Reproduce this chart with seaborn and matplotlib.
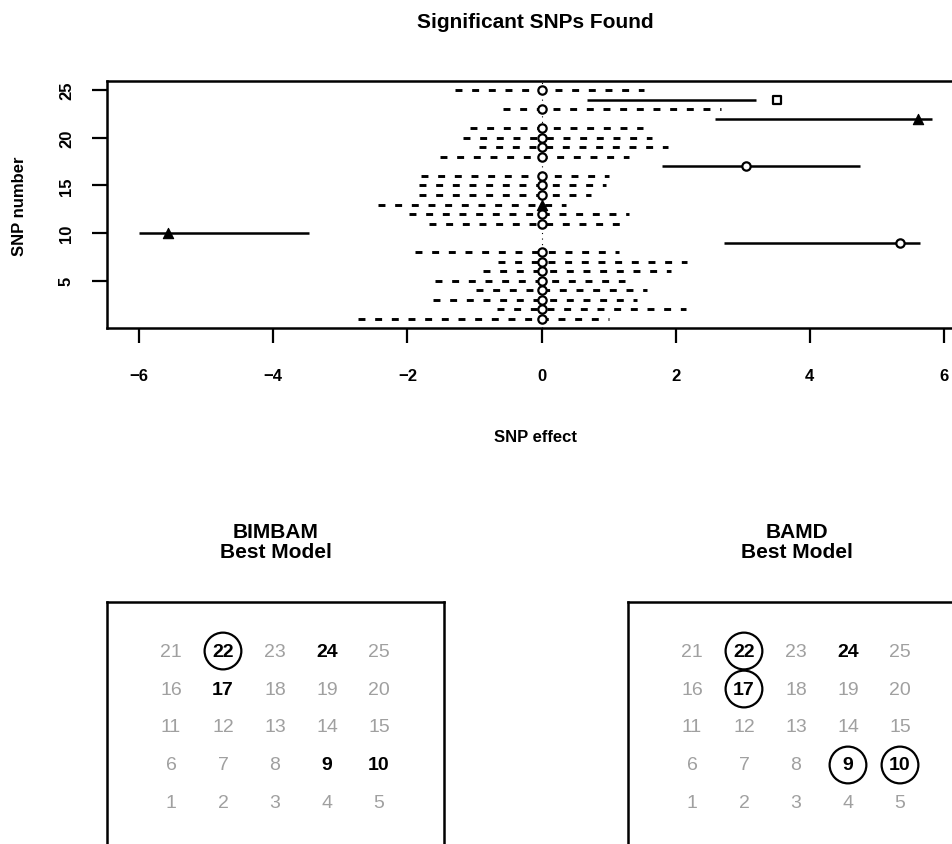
import matplotlib
matplotlib.use("Agg")
import pandas as pd
import matplotlib.pyplot as plt
import seaborn as sns

# Top panel: effect estimate and interval for each SNP
snp = list(range(1, 26))
estimate = [0, 0, 0, 0, 0, 0, 0, 0, 5.34, -5.57, 0, 0, 0, 0, 0,
            0, 3.05, 0, 0, 0, 0, 5.61, 0, 3.51, 0]
lower = [-2.74, -0.67, -1.62, -0.98, -1.59, -0.88, -0.65, -1.89, 2.72, -6.01,
         -1.68, -1.98, -2.44, -1.83, -1.82, -1.80, 1.79, -1.52, -0.93, -1.17,
         -1.06, 2.59, -0.58, 0.68, -1.29]
upper = [1.00, 2.16, 1.43, 1.58, 1.24, 1.93, 2.17, 1.16, 5.64, -3.47,
         1.30, 1.31, 0.37, 0.74, 0.96, 1.01, 4.75, 1.31, 1.89, 1.65,
         1.52, 5.83, 2.68, 3.20, 1.53]
significant = [9, 10, 17, 22, 24]
triangle_snps = [10, 13, 22]
square_snps = [24]

# Bottom panels: 5x5 grid of SNP numbers
grid_numbers = list(range(1, 26))
bimbam_bold = [9, 10, 17, 22, 24]
bimbam_circled = [22]
bamd_bold = [9, 10, 17, 22, 24]
bamd_circled = [9, 10, 17, 22]

df = pd.DataFrame({"snp": snp, "estimate": estimate, "lower": lower, "upper": upper})
df["sig"] = df["snp"].isin(significant)
df["kind"] = "circle"
df.loc[df["snp"].isin(triangle_snps), "kind"] = "triangle"
df.loc[df["snp"].isin(square_snps), "kind"] = "square"

sns.set_style("ticks")
plt.rcParams["font.family"] = ["Liberation Sans", "DejaVu Sans"]
plt.rcParams["text.color"] = "black"
plt.rcParams["xtick.color"] = "black"
plt.rcParams["ytick.color"] = "black"
plt.rcParams["xtick.labelcolor"] = "black"
plt.rcParams["ytick.labelcolor"] = "black"

W, H = 952, 845
fig = plt.figure(figsize=(W / 100, H / 100), dpi=100)

# ---- top interval plot ----
ax = fig.add_axes([107 / W, 1 - 329 / H, (964 - 107) / W, 247 / H])
lw = 1.8
dlw = 2.1
ax.axvline(0, color="black", lw=0.8, ls=(0, (1, 4)), zorder=1)
ns = df[~df["sig"]]
ax.hlines(ns["snp"], ns["lower"], ns["upper"], colors="black", lw=dlw,
          linestyles=[(0, (5 / dlw, 7 / dlw))], zorder=2)
sg = df[df["sig"]]
ax.hlines(sg["snp"], sg["lower"], sg["upper"], colors="black", lw=lw, zorder=2)

sns.scatterplot(data=df[df["kind"] == "circle"], x="estimate", y="snp", marker="o",
                s=36, facecolor="white", edgecolor="black", linewidth=1.6, ax=ax, zorder=3)
sns.scatterplot(data=df[df["kind"] == "square"], x="estimate", y="snp", marker="s",
                s=28, facecolor="white", edgecolor="black", linewidth=1.6, ax=ax, zorder=3)
sns.scatterplot(data=df[df["kind"] == "triangle"], x="estimate", y="snp", marker="^",
                s=55, color="black", edgecolor="black", linewidth=0.8, ax=ax, zorder=3)

ax.set_xlim(-6.48, 6.30)
ax.set_ylim(0.04, 25.96)
ax.set_xticks([-6, -4, -2, 0, 2, 4, 6])
ax.set_xticklabels(["\u22126", "\u22124", "\u22122", "0", "2", "4", "6"])
ax.set_yticks([5, 10, 15, 20, 25])
ax.set_xlabel("")
ax.set_ylabel("")
for sp in ax.spines.values():
    sp.set_linewidth(lw)
    sp.set_color("black")
ax.tick_params(axis="both", length=10.8, width=1.6, color="black", labelsize=12)
ax.tick_params(axis="x", pad=18)
ax.tick_params(axis="y", pad=13, labelrotation=90)
for t in ax.get_xticklabels() + ax.get_yticklabels():
    t.set_fontweight("bold")
for t in ax.get_yticklabels():
    t.set_verticalalignment("center")

fig.text(535.5 / W, 1 - 22 / H, "Significant SNPs Found", ha="center", va="center",
         fontsize=15, fontweight="bold")
fig.text(535.5 / W, 1 - 438 / H, "SNP effect", ha="center", va="center",
         fontsize=12, fontweight="bold")
fig.text(20 / W, 1 - 206 / H, "SNP number", ha="center", va="center",
         rotation=90, fontsize=12, fontweight="bold")


# ---- bottom grids ----
def draw_grid(left_px, bold, circled, title, title_x):
    gx = fig.add_axes([left_px / W, 1 - 853 / H, 337 / W, 250 / H])
    gdf = pd.DataFrame({"num": grid_numbers})
    gdf["col"] = (gdf["num"] - 1) % 5 + 1
    gdf["row"] = (gdf["num"] - 1) // 5 + 1
    for _, r in gdf.iterrows():
        hi = r["num"] in bold
        gx.text(r["col"], r["row"], str(r["num"]), ha="center", va="center",
                fontsize=14, fontweight="bold" if hi else "normal",
                color="black" if hi else "#a0a0a0")
    circ = gdf[gdf["num"].isin(circled)]
    sns.scatterplot(data=circ, x="col", y="row", marker="o", s=700,
                    facecolor="none", edgecolor="black", linewidth=1.6, ax=gx)
    gx.set_xlim(-0.23, 6.25)
    gx.set_ylim(-0.29, 6.29)
    gx.set_xticks([])
    gx.set_yticks([])
    gx.set_xlabel("")
    gx.set_ylabel("")
    for sp in gx.spines.values():
        sp.set_linewidth(lw)
        sp.set_color("black")
    fig.text(title_x / W, 1 - 542.5 / H, title, ha="center", va="center",
             fontsize=15, fontweight="bold", linespacing=1.1)


draw_grid(107, bimbam_bold, bimbam_circled, "BIMBAM\nBest Model", 275.5)
draw_grid(628, bamd_bold, bamd_circled, "BAMD\nBest Model", 796.5)

fig.savefig("out.png", dpi=100)
